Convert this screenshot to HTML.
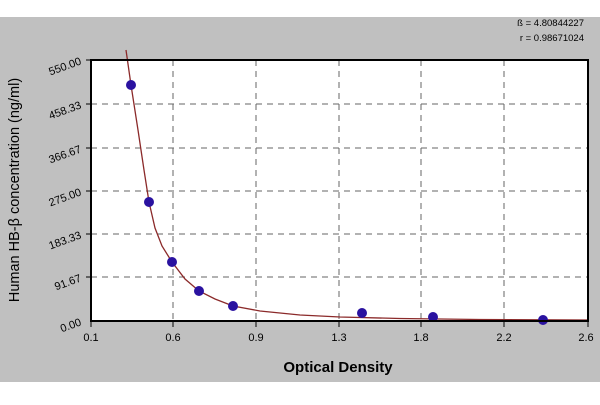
<!DOCTYPE html>
<html><head><style>body{margin:0;width:600px;height:400px;background:#fff;overflow:hidden}</style></head><body>
<svg width="600" height="400" xmlns="http://www.w3.org/2000/svg" font-family="Liberation Sans, sans-serif">
<rect x="0" y="17" width="600" height="365" fill="#c0c0c0"/>
<rect x="91" y="60" width="497" height="261" fill="#fff"/>
<g stroke="#666" stroke-dasharray="6,5" stroke-width="1">
<line x1="91" y1="104" x2="588" y2="104"/><line x1="91" y1="148" x2="588" y2="148"/><line x1="91" y1="191" x2="588" y2="191"/><line x1="91" y1="234" x2="588" y2="234"/><line x1="91" y1="277" x2="588" y2="277"/>
<line x1="173" y1="60" x2="173" y2="321"/><line x1="256" y1="60" x2="256" y2="321"/><line x1="339" y1="60" x2="339" y2="321"/><line x1="421" y1="60" x2="421" y2="321"/><line x1="504" y1="60" x2="504" y2="321"/>
</g>
<g stroke="#000" stroke-width="1">
<line x1="86" y1="60" x2="91" y2="60"/><line x1="86" y1="104" x2="91" y2="104"/><line x1="86" y1="148" x2="91" y2="148"/><line x1="86" y1="191" x2="91" y2="191"/><line x1="86" y1="234" x2="91" y2="234"/><line x1="86" y1="277" x2="91" y2="277"/>
<line x1="91" y1="321" x2="91" y2="327"/><line x1="173" y1="321" x2="173" y2="327"/><line x1="256" y1="321" x2="256" y2="327"/><line x1="339" y1="321" x2="339" y2="327"/><line x1="421" y1="321" x2="421" y2="327"/><line x1="504" y1="321" x2="504" y2="327"/><line x1="588" y1="321" x2="588" y2="327"/>
</g>
<polyline fill="none" stroke="#8b2a2a" stroke-width="1.3" points="126,50 131,85 138,130 144,170 149,202 155,228 162,246 172,262 185,279 199,291 215,299 233,306 260,311 300,315 340,317 400,318.5 480,319.5 588,320"/>
<g fill="#2a12a0">
<circle cx="131" cy="85" r="5"/><circle cx="149" cy="202" r="5"/><circle cx="172" cy="262" r="5"/><circle cx="199" cy="291" r="5"/><circle cx="233" cy="306" r="5"/><circle cx="362" cy="313" r="5"/><circle cx="433" cy="317" r="5"/><circle cx="543" cy="320" r="5"/>
</g>
<rect x="91" y="60" width="497" height="261" fill="none" stroke="#000" stroke-width="2"/>
<g font-size="11" fill="#000" text-anchor="end">
<text transform="translate(82,64) rotate(-20)">550.00</text>
<text transform="translate(82,108) rotate(-20)">458.33</text>
<text transform="translate(82,152) rotate(-20)">366.67</text>
<text transform="translate(82,195) rotate(-20)">275.00</text>
<text transform="translate(82,238) rotate(-20)">183.33</text>
<text transform="translate(82,281) rotate(-20)">91.67</text>
<text transform="translate(82,325) rotate(-20)">0.00</text>
</g>
<g font-size="11" text-anchor="middle">
<text x="91" y="341">0.1</text><text x="173" y="341">0.6</text><text x="256" y="341">0.9</text><text x="339" y="341">1.3</text><text x="421" y="341">1.8</text><text x="504" y="341">2.2</text><text x="586" y="341">2.6</text>
</g>
<text x="338" y="372" font-size="15" font-weight="bold" text-anchor="middle">Optical Density</text>
<text transform="translate(19,190) rotate(-90)" font-size="14.5" text-anchor="middle">Human HB-β concentration (ng/ml)</text>
<g font-size="9.5" text-anchor="end"><text x="584" y="26">ß = 4.80844227</text><text x="584" y="41">r = 0.98671024</text></g>
</svg>
</body></html>
